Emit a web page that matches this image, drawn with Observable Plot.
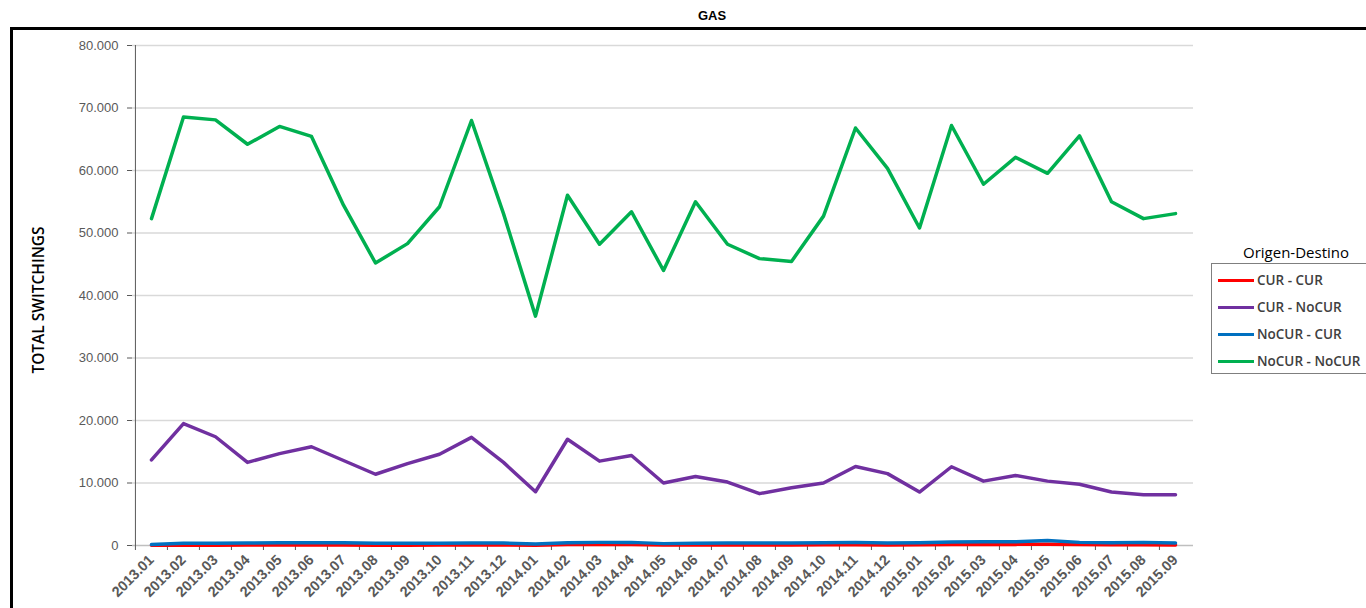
<!DOCTYPE html>
<html><head><meta charset="utf-8">
<script src="https://cdn.jsdelivr.net/npm/d3@7"></script>
<script src="https://cdn.jsdelivr.net/npm/@observablehq/plot@0.6"></script>
<style>
body{margin:0;width:1366px;height:608px;overflow:hidden;background:#fff;position:relative;font-family:"Liberation Sans",Arial,sans-serif}
#frame{position:absolute;left:10px;top:27px;width:1400px;height:700px;border:3px solid #000;box-sizing:border-box}
#title{position:absolute;top:8px;left:0;width:1424px;text-align:center;font:bold 13px "Liberation Sans",Arial,sans-serif;color:#000}
#chart{position:absolute;left:0;top:0}
#ytitle{position:absolute;left:38px;top:300px;transform:translate(-50%,-50%) rotate(-90deg);white-space:nowrap;font:600 15.5px "Open Sans",sans-serif;color:#000}
#legend-title{position:absolute;left:1211px;width:170px;top:242px;text-align:center;font:15px "Open Sans",sans-serif;color:#000}
#legend{position:absolute;left:1211px;top:263px;width:170px;height:111px;border:1px solid #7f7f7f;box-sizing:border-box;background:#fff}
.item{position:absolute;left:6px;height:16px;display:flex;align-items:center;font:600 13.5px "Open Sans",sans-serif;color:#404040;white-space:nowrap}
.sw{width:36px;height:3px;margin-right:3px}
</style></head>
<body>
<div id="frame"></div>
<div id="title">GAS</div>
<div id="chart"></div>
<div id="ytitle">TOTAL SWITCHINGS</div>
<div id="legend-title">Origen-Destino</div>
<div id="legend"></div>
<script>
const months = ["2013.01","2013.02","2013.03","2013.04","2013.05","2013.06","2013.07","2013.08","2013.09","2013.10","2013.11","2013.12",
"2014.01","2014.02","2014.03","2014.04","2014.05","2014.06","2014.07","2014.08","2014.09","2014.10","2014.11","2014.12",
"2015.01","2015.02","2015.03","2015.04","2015.05","2015.06","2015.07","2015.08","2015.09"];
const series = ["CUR - CUR","CUR - NoCUR","NoCUR - CUR","NoCUR - NoCUR"];
const colors = ["#ff0000","#7030a0","#0070c0","#00b050"];
const curCur = [30,60,60,70,80,80,80,60,60,70,80,80,50,150,150,150,80,90,100,100,100,110,120,100,120,150,180,180,200,150,120,130,100];
const curNoCur = [13700,19500,17400,13300,14700,15800,13600,11400,13100,14600,17300,13300,8600,17000,13500,14400,10000,11050,10150,8300,9250,10000,12650,11500,8550,12600,10300,11200,10300,9800,8550,8130,8130];
const noCurCur = [150,350,350,400,450,450,450,350,350,350,400,400,250,450,500,500,300,350,400,400,400,450,500,400,450,550,600,600,800,500,450,500,400];
const noCurNoCur = [52300,68550,68100,64200,67050,65450,54450,45200,48300,54200,68000,53100,36700,56050,48200,53400,44000,55000,48200,45900,45450,52700,66800,60350,50800,67200,57800,62100,59550,65550,55000,52300,53100];
const yTicks = [0,10000,20000,30000,40000,50000,60000,70000,80000];

const valuesBySeries = [curCur, curNoCur, noCurCur, noCurNoCur];
const rows = series.flatMap((s, k) => months.map((m, i) => ({series: s, month: m, value: valuesBySeries[k][i]})));

const W = 1366, H = 608, mL = 132, mR = 173, mT = 45, mB = 63;
const step = (W - mL - mR) / months.length;
const nf = d3.formatLocale({decimal: ",", thousands: ".", grouping: [3], currency: ["", ""]}).format(",d");

const chart = Plot.plot({
  width: W, height: H,
  marginLeft: mL, marginRight: mR, marginTop: mT, marginBottom: mB,
  style: {background: "transparent", overflow: "visible"},
  x: {type: "point", domain: months, padding: 0.5},
  y: {domain: [0, 80000]},
  color: {domain: series, range: colors},
  marks: [
    Plot.gridY(yTicks.slice(1), {stroke: "#d9d9d9", strokeOpacity: 1, strokeWidth: 1.5}),
    Plot.ruleY([0], {stroke: "#bfbfbf", strokeWidth: 1.5}),
    Plot.ruleX([months[0]], {y1: 0, y2: 80000, dx: -step / 2, stroke: "#595959", strokeWidth: 1}),
    Plot.axisY(yTicks, {tickSize: 5, tickPadding: 9, tickFormat: nf, fontSize: 13, fontFamily: "Liberation Sans, Arial, sans-serif", color: "#595959", label: null}),
    Plot.axisX({tickSize: 5, dx: -step / 2, tickFormat: () => "", color: "#595959", label: null}),
    Plot.axisX({tickSize: 0, tickPadding: 12, tickRotate: -45, fontSize: 14.5, fontWeight: "bold", fontFamily: "Liberation Sans, Arial, sans-serif", color: "#595959", label: null}),
    Plot.line(rows, {x: "month", y: "value", z: "series", stroke: "series", strokeWidth: 3.5, strokeLinejoin: "round"})
  ]
});
document.getElementById("chart").appendChild(chart);

const legend = document.getElementById("legend");
series.forEach((s, k) => {
  const it = document.createElement("div");
  it.className = "item";
  it.style.top = (8 + k * 27) + "px";
  it.innerHTML = `<span class="sw" style="background:${colors[k]}"></span>${s}`;
  legend.appendChild(it);
});
</script>
</body></html>
